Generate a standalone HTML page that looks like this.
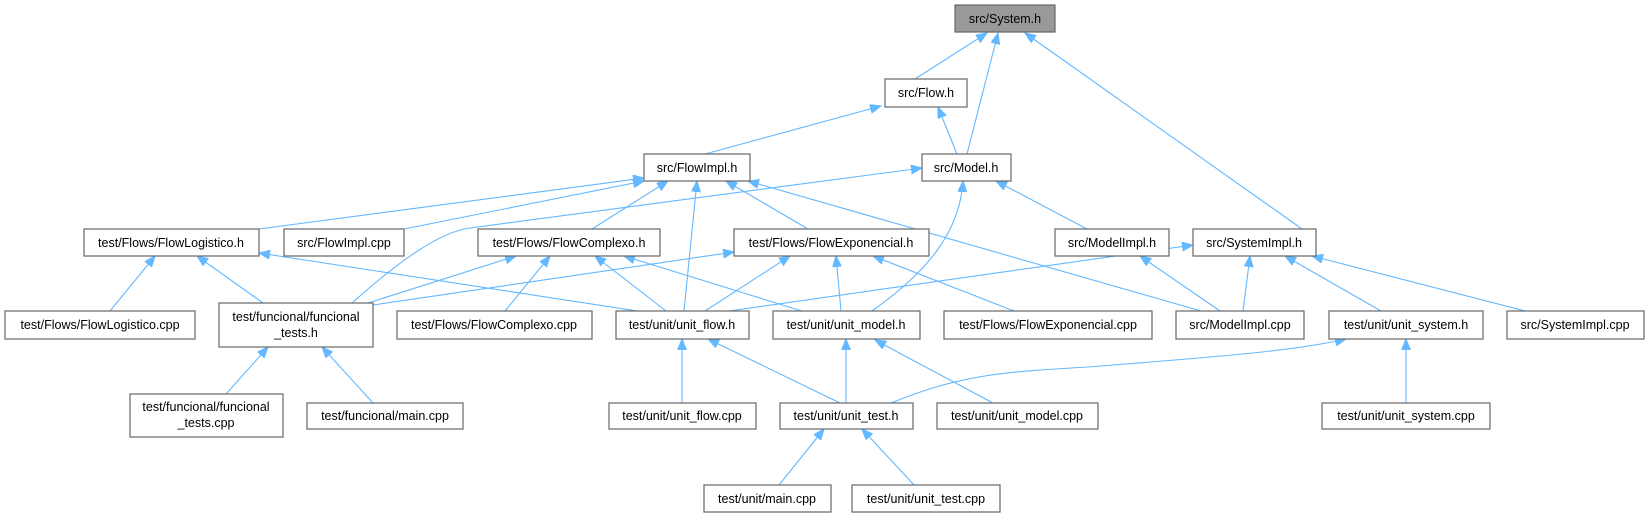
<!DOCTYPE html>
<html><head><meta charset="utf-8"><style>
html,body{margin:0;padding:0;background:#fff;}
svg{display:block;}
text{font-family:"Liberation Sans",Arial,sans-serif;font-size:12.5px;fill:#000;text-anchor:middle;}
.n{fill:#fff;stroke:#666;stroke-width:1.2;}
.e{fill:none;stroke:#63b8ff;stroke-width:1.1;marker-end:url(#a);}
</style></head><body>
<svg width="1649" height="517" viewBox="0 0 1649 517" xmlns="http://www.w3.org/2000/svg">
<defs><marker id="a" markerUnits="userSpaceOnUse" markerWidth="12" markerHeight="10" refX="11" refY="4.5" orient="auto"><path d="M0,0 L11,4.5 L0,9 z" fill="#63b8ff" stroke="#63b8ff"/></marker></defs>
<g>
<line class="e" x1="915" y1="79" x2="987" y2="33"/>
<line class="e" x1="967" y1="154" x2="998" y2="33"/>
<line class="e" x1="1302" y1="229" x2="1025" y2="33"/>
<line class="e" x1="705" y1="154" x2="881" y2="106"/>
<line class="e" x1="957" y1="154" x2="938" y2="107"/>
<line class="e" x1="1087" y1="229" x2="996" y2="181"/>
<line class="e" x1="259" y1="229" x2="644" y2="178"/>
<line class="e" x1="404" y1="229" x2="644" y2="181"/>
<path class="e" d="M352,303 C400,260 440,232 470,228 L922,168"/>
<line class="e" x1="592" y1="229" x2="668" y2="181"/>
<line class="e" x1="684" y1="311" x2="697" y2="181"/>
<line class="e" x1="808" y1="229" x2="726" y2="181"/>
<line class="e" x1="1201" y1="311" x2="748" y2="181"/>
<line class="e" x1="110" y1="311" x2="155" y2="256"/>
<line class="e" x1="263" y1="303" x2="197" y2="256"/>
<line class="e" x1="637" y1="311" x2="259" y2="253"/>
<line class="e" x1="368" y1="303" x2="516" y2="256"/>
<line class="e" x1="505" y1="311" x2="550" y2="256"/>
<line class="e" x1="666" y1="311" x2="595" y2="256"/>
<line class="e" x1="802" y1="311" x2="624" y2="256"/>
<line class="e" x1="373" y1="305" x2="734" y2="252"/>
<line class="e" x1="705" y1="311" x2="790" y2="256"/>
<line class="e" x1="841" y1="311" x2="836" y2="256"/>
<line class="e" x1="1014" y1="311" x2="873" y2="256"/>
<path class="e" d="M872,311 C930,270 960,230 963,181"/>
<line class="e" x1="729" y1="311" x2="1193" y2="245"/>
<line class="e" x1="1220" y1="311" x2="1140" y2="256"/>
<line class="e" x1="1243" y1="311" x2="1250" y2="256"/>
<line class="e" x1="1381" y1="311" x2="1285" y2="256"/>
<line class="e" x1="1525" y1="311" x2="1312" y2="256"/>
<line class="e" x1="226" y1="394" x2="268" y2="347"/>
<line class="e" x1="373" y1="403" x2="322" y2="347"/>
<line class="e" x1="682" y1="403" x2="682" y2="339"/>
<line class="e" x1="840" y1="403" x2="708" y2="339"/>
<line class="e" x1="846" y1="403" x2="846" y2="339"/>
<line class="e" x1="993" y1="403" x2="875" y2="340"/>
<path class="e" d="M891,403 C960,375 1000,372 1088,367 C1200,358 1290,352 1346,339"/>
<line class="e" x1="1406" y1="403" x2="1406" y2="339"/>
<line class="e" x1="779" y1="485" x2="824" y2="429"/>
<line class="e" x1="914" y1="485" x2="862" y2="429"/>
</g>
<g>
<rect x="955" y="5" width="100" height="27" style="fill:#999;stroke:#666;stroke-width:1.2"/><text x="1005" y="23">src/System.h</text>
<rect class="n" x="885" y="79" width="82" height="28"/><text x="926" y="97">src/Flow.h</text>
<rect class="n" x="644" y="154" width="106" height="27"/><text x="697" y="172">src/FlowImpl.h</text>
<rect class="n" x="922" y="154" width="89" height="27"/><text x="966" y="172">src/Model.h</text>
<rect class="n" x="84" y="229" width="175" height="27"/><text x="171" y="247">test/Flows/FlowLogistico.h</text>
<rect class="n" x="284" y="229" width="120" height="27"/><text x="344" y="247">src/FlowImpl.cpp</text>
<rect class="n" x="478" y="229" width="182" height="27"/><text x="569" y="247">test/Flows/FlowComplexo.h</text>
<rect class="n" x="734" y="229" width="195" height="27"/><text x="831" y="247">test/Flows/FlowExponencial.h</text>
<rect class="n" x="1055" y="229" width="114" height="27"/><text x="1112" y="247">src/ModelImpl.h</text>
<rect class="n" x="1193" y="229" width="123" height="27"/><text x="1254" y="247">src/SystemImpl.h</text>
<rect class="n" x="5" y="311" width="190" height="28"/><text x="100" y="329">test/Flows/FlowLogistico.cpp</text>
<rect class="n" x="219" y="303" width="154" height="44"/><text x="296" y="321">test/funcional/funcional</text><text x="296" y="337">_tests.h</text>
<rect class="n" x="397" y="311" width="195" height="28"/><text x="494" y="329">test/Flows/FlowComplexo.cpp</text>
<rect class="n" x="616" y="311" width="133" height="28"/><text x="682" y="329">test/unit/unit_flow.h</text>
<rect class="n" x="773" y="311" width="147" height="28"/><text x="846" y="329">test/unit/unit_model.h</text>
<rect class="n" x="944" y="311" width="208" height="28"/><text x="1048" y="329">test/Flows/FlowExponencial.cpp</text>
<rect class="n" x="1176" y="311" width="128" height="28"/><text x="1240" y="329">src/ModelImpl.cpp</text>
<rect class="n" x="1329" y="311" width="154" height="28"/><text x="1406" y="329">test/unit/unit_system.h</text>
<rect class="n" x="1507" y="311" width="137" height="28"/><text x="1575" y="329">src/SystemImpl.cpp</text>
<rect class="n" x="130" y="394" width="153" height="43"/><text x="206" y="411">test/funcional/funcional</text><text x="206" y="427">_tests.cpp</text>
<rect class="n" x="307" y="403" width="156" height="26"/><text x="385" y="420">test/funcional/main.cpp</text>
<rect class="n" x="609" y="403" width="147" height="26"/><text x="682" y="420">test/unit/unit_flow.cpp</text>
<rect class="n" x="780" y="403" width="133" height="26"/><text x="846" y="420">test/unit/unit_test.h</text>
<rect class="n" x="937" y="403" width="161" height="26"/><text x="1017" y="420">test/unit/unit_model.cpp</text>
<rect class="n" x="1322" y="403" width="168" height="26"/><text x="1406" y="420">test/unit/unit_system.cpp</text>
<rect class="n" x="704" y="485" width="127" height="27"/><text x="767" y="503">test/unit/main.cpp</text>
<rect class="n" x="852" y="485" width="148" height="27"/><text x="926" y="503">test/unit/unit_test.cpp</text>
</g>
</svg>
</body></html>
